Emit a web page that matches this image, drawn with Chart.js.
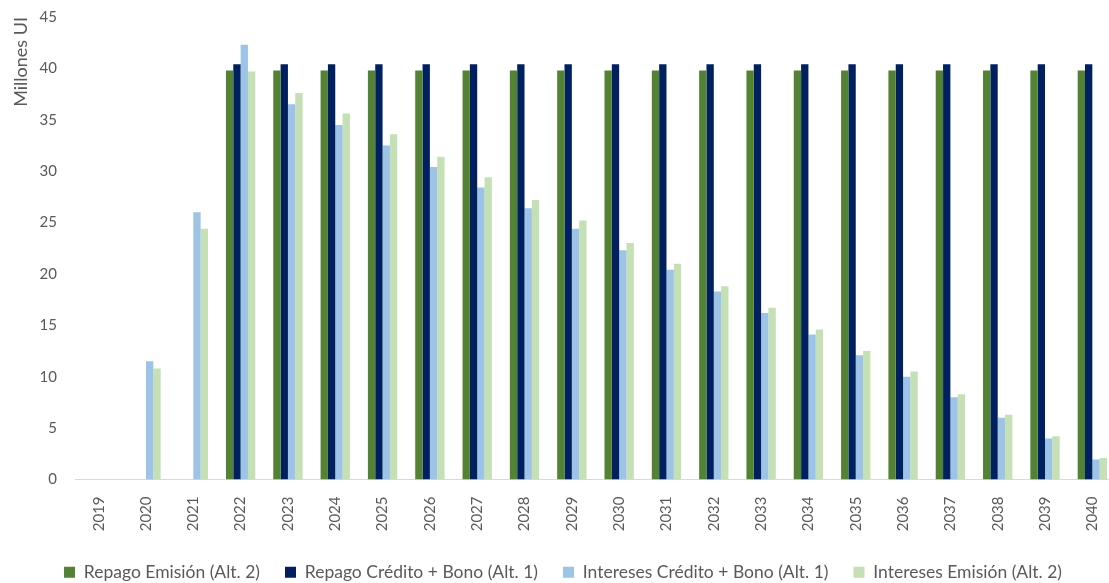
<!DOCTYPE html>
<html>
<head>
<meta charset="utf-8">
<script src="https://cdn.jsdelivr.net/npm/chart.js@4.4.0/dist/chart.umd.min.js"></script>
<style>
    body { margin: 0; overflow: hidden; background: #fff; }
    #wrap { width: 1130px; height: 583px; }
</style>
</head>
<body>
<div id="wrap"><canvas id="barChart"></canvas></div>
<script>
var years = ['2019', '2020', '2021', '2022', '2023', '2024', '2025', '2026', '2027', '2028', '2029',
    '2030', '2031', '2032', '2033', '2034', '2035', '2036', '2037', '2038', '2039', '2040'];

var repagoEmision = [null, null, null, 39.8, 39.8, 39.8, 39.8, 39.8, 39.8, 39.8, 39.8,
    39.8, 39.8, 39.8, 39.8, 39.8, 39.8, 39.8, 39.8, 39.8, 39.8, 39.8];
var repagoCredito = [null, null, null, 40.4, 40.4, 40.4, 40.4, 40.4, 40.4, 40.4, 40.4,
    40.4, 40.4, 40.4, 40.4, 40.4, 40.4, 40.4, 40.4, 40.4, 40.4, 40.4];
var interesesCredito = [null, 11.5, 26.0, 42.3, 36.5, 34.5, 32.5, 30.4, 28.4, 26.4, 24.4,
    22.3, 20.4, 18.3, 16.2, 14.1, 12.1, 10.0, 8.0, 6.0, 4.0, 1.95];
var interesesEmision = [null, 10.8, 24.4, 39.7, 37.6, 35.6, 33.6, 31.4, 29.4, 27.2, 25.2,
    23.0, 21.0, 18.8, 16.7, 14.6, 12.5, 10.5, 8.3, 6.3, 4.2, 2.1];

var seriesLabels = ['Repago Emisión (Alt. 2)', 'Repago Crédito + Bono (Alt. 1)',
    'Intereses Crédito + Bono (Alt. 1)', 'Intereses Emisión (Alt. 2)'];
var seriesColors = ['#548235', '#002060', '#9DC3E6', '#C5E0B4'];

var textColor = '#595959';
var fontFamily = 'Lato, "Open Sans", sans-serif';

var makeSet = (label, data, color) => ({
    label: label,
    data: data,
    backgroundColor: color,
    borderWidth: 0,
    categoryPercentage: 0.62,
    barPercentage: 1.0,
});

var barConfig = {
    type: 'bar',
    data: {
        labels: years,
        datasets: [
            makeSet(seriesLabels[0], repagoEmision, seriesColors[0]),
            makeSet(seriesLabels[1], repagoCredito, seriesColors[1]),
            makeSet(seriesLabels[2], interesesCredito, seriesColors[2]),
            makeSet(seriesLabels[3], interesesEmision, seriesColors[3]),
        ],
    },
    options: {
        responsive: true,
        maintainAspectRatio: false,
        animation: false,
        layout: {
            // bottom is negative so the legend row sits low like the original
            padding: { left: 10, right: 14, top: 17, bottom: -8 },
        },
        plugins: {
            tooltip: { enabled: false },
            legend: {
                position: 'bottom',
                labels: {
                    boxWidth: 11,
                    boxHeight: 11,
                    padding: 25,
                    color: textColor,
                    font: { family: fontFamily, size: 17.5 },
                },
            },
        },
        scales: {
            x: {
                grid: { display: false, drawTicks: false },
                border: { display: true, color: '#d9d9d9', width: 1 },
                ticks: {
                    color: textColor,
                    font: { family: fontFamily, size: 15 },
                    minRotation: 90,
                    maxRotation: 90,
                    autoSkip: false,
                    padding: 17,
                },
                afterFit: (scale) => { scale.height = 59; },
            },
            y: {
                min: 0,
                max: 45,
                grid: { display: false, drawTicks: false },
                border: { display: false },
                ticks: {
                    stepSize: 5,
                    color: textColor,
                    font: { family: fontFamily, size: 15 },
                    padding: 18,
                },
                title: {
                    display: true,
                    text: 'Millones UI',
                    align: 'end',
                    color: textColor,
                    font: { family: fontFamily, size: 18 },
                    padding: 0,
                },
                afterFit: (scale) => {
                    scale.width = 65;
                    // tick padding would otherwise push the top of the axis down
                    scale.paddingTop = 8;
                    scale.paddingBottom = 8;
                },
            },
        },
    },
};

var barCtx = document.getElementById('barChart');
window.myBar = new Chart(barCtx, barConfig);
</script>
</body>
</html>
